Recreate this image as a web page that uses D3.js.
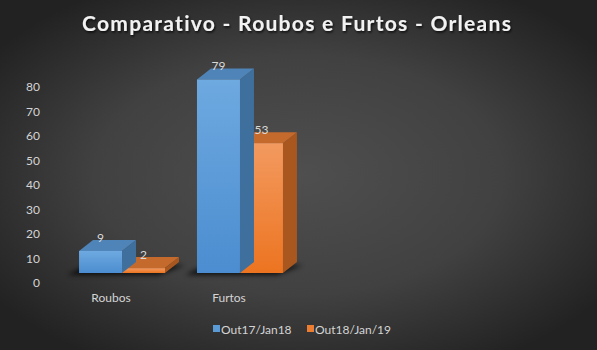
<!DOCTYPE html>
<html>
<head>
<meta charset="utf-8">
<script src="https://cdn.jsdelivr.net/npm/d3@7"></script>
<style>
html,body{margin:0;padding:0;background:#333;}
svg{display:block;}
</style>
</head>
<body>
<script>
const categories = ["Roubos", "Furtos"];
const seriesNames = ["Out17/Jan18", "Out18/Jan/19"];
const series1 = [9, 79];
const series2 = [2, 53];
const yTicks = [0, 10, 20, 30, 40, 50, 60, 70, 80];
const titleText = "Comparativo - Roubos e Furtos - Orleans";

const W = 597, H = 350;
const svg = d3.select("body").append("svg").attr("width", W).attr("height", H)
  .style("font-family", "Lato, 'Open Sans', sans-serif");
const defs = svg.append("defs");

// background radial gradient
const bg = defs.append("radialGradient").attr("id", "bg")
  .attr("cx", "50%").attr("cy", "50%").attr("r", "62%");
bg.append("stop").attr("offset", "0%").attr("stop-color", "#4f4f4f");
bg.append("stop").attr("offset", "55%").attr("stop-color", "#414141");
bg.append("stop").attr("offset", "100%").attr("stop-color", "#222222");
svg.append("rect").attr("width", W).attr("height", H).attr("fill", "url(#bg)");

const palettes = [
  {top0: "#6ea9e0", bot: "#4b8dd0", side: "#3f6f9c", cap: "#4f84b8"},
  {top0: "#f39a60", bot: "#ec7420", side: "#a9571f", cap: "#c46a2d"}
];
palettes.forEach((p, i) => {
  const g = defs.append("linearGradient").attr("id", "front" + i)
    .attr("x1", 0).attr("y1", 0).attr("x2", 0).attr("y2", 1);
  g.append("stop").attr("offset", "0%").attr("stop-color", p.top0);
  g.append("stop").attr("offset", "100%").attr("stop-color", p.bot);
});
const blur = defs.append("filter").attr("id", "blur").attr("x", "-30%").attr("y", "-100%").attr("width", "160%").attr("height", "300%");
blur.append("feGaussianBlur").attr("stdDeviation", 2.5);
const tsh = defs.append("filter").attr("id", "tsh").attr("x", "-5%").attr("y", "-30%").attr("width", "110%").attr("height", "160%");
tsh.append("feDropShadow").attr("dx", 1).attr("dy", 1.5).attr("stdDeviation", 1.2).attr("flood-color", "#000").attr("flood-opacity", 0.8);

// title
svg.append("text").attr("x", 297).attr("y", 31).attr("text-anchor", "middle")
  .attr("fill", "#f2f2f2").attr("font-size", 21).attr("font-weight", 700)
  .attr("letter-spacing", 1.1)
  .attr("textLength", 430).attr("lengthAdjust", "spacing")
  .attr("filter", "url(#tsh)")
  .text(titleText);

// scales
const yAxisScale = d3.scaleLinear().domain([0, 80]).range([283, 87]);
const yBar = d3.scaleLinear().domain([0, 80]).range([273, 77]);
const x0 = d3.scaleBand().domain(categories).range([63, 299]).paddingInner(0.271).paddingOuter(0.136);
const x1 = d3.scaleBand().domain([0, 1]).range([0, x0.bandwidth()]);
const DX = 14, DY = -11;

// y axis labels
const yAxis = d3.axisLeft(yAxisScale).tickValues(yTicks).tickSize(0).tickPadding(0);
const ya = svg.append("g").attr("transform", "translate(40,0)").call(yAxis);
ya.select(".domain").remove();
ya.selectAll("text").attr("fill", "#d4d4d4").attr("font-size", 12).attr("font-family", "Lato, 'Open Sans', sans-serif");

// category labels
const xAxis = d3.axisBottom(x0).tickSize(0).tickPadding(0);
const xa = svg.append("g").attr("transform", "translate(-11,293)").call(xAxis);
xa.select(".domain").remove();
xa.selectAll("text").attr("fill", "#d4d4d4").attr("font-size", 12).attr("font-family", "Lato, 'Open Sans', sans-serif");

const data = [];
categories.forEach((c, ci) => {
  [series1, series2].forEach((s, si) => data.push({c, si, v: s[ci]}));
});

// shadows
categories.forEach(c => {
  const xl = x0(c), xr = x0(c) + x0.bandwidth();
  const yb = yBar(0);
  svg.append("path")
    .attr("d", `M${xl - 12},${yb + 2} L${xr - 6},${yb + 2} L${xr + DX + 6},${yb + DY + 3} L${xl + DX - 6},${yb + DY + 3} Z`)
    .attr("fill", "#000").attr("opacity", 0.75).attr("filter", "url(#blur)");
});

// bars
const bars = svg.append("g");
data.slice().sort((a, b) => (x0(b.c) + x1(b.si)) - (x0(a.c) + x1(a.si))).forEach(d => {
  const p = palettes[d.si];
  const xl = x0(d.c) + x1(d.si), xr = xl + x1.bandwidth();
  const yt = yBar(d.v), yb = yBar(0);
  const g = bars.append("g");
  g.append("path").attr("d", `M${xr},${yt} L${xr + DX},${yt + DY} L${xr + DX},${yb + DY} L${xr},${yb} Z`).attr("fill", p.side);
  g.append("path").attr("d", `M${xl},${yt} L${xl + DX},${yt + DY} L${xr + DX},${yt + DY} L${xr},${yt} Z`).attr("fill", p.cap);
  g.append("rect").attr("x", xl).attr("y", yt).attr("width", xr - xl).attr("height", yb - yt).attr("fill", `url(#front${d.si})`);
});

// data labels
data.forEach(d => {
  const xl = x0(d.c) + x1(d.si);
  svg.append("text")
    .attr("x", xl + x1.bandwidth() / 2)
    .attr("y", yBar(d.v) + DY + 2)
    .attr("text-anchor", "middle")
    .attr("fill", "#d9d9d9").attr("font-size", 12)
    .text(d.v);
});

// legend
const legend = svg.append("g").attr("transform", "translate(0,329)");
const legX = [213, 307];
seriesNames.forEach((n, i) => {
  legend.append("rect").attr("x", legX[i]).attr("y", -4).attr("width", 7).attr("height", 7)
    .attr("fill", i === 0 ? "#5b9bd5" : "#ed7d31");
  legend.append("text").attr("x", legX[i] + 8).attr("y", 4.5)
    .attr("fill", "#d4d4d4").attr("font-size", 12).text(n);
});
</script>
</body>
</html>
